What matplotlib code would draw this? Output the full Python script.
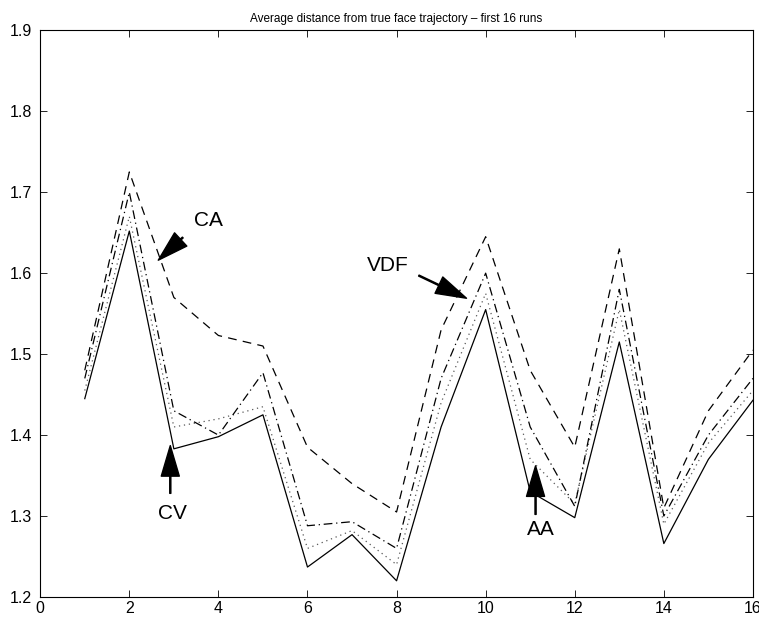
import matplotlib
matplotlib.use("Agg")
import matplotlib.pyplot as plt

runs = list(range(1, 17))
cv  = [1.445, 1.652, 1.383, 1.398, 1.425, 1.237, 1.277, 1.220, 1.410, 1.555, 1.330, 1.298, 1.515, 1.266, 1.370, 1.443]
dot = [1.455, 1.670, 1.410, 1.420, 1.435, 1.260, 1.282, 1.240, 1.440, 1.575, 1.370, 1.315, 1.555, 1.290, 1.390, 1.455]
vdf = [1.470, 1.700, 1.430, 1.400, 1.477, 1.288, 1.293, 1.260, 1.470, 1.600, 1.410, 1.312, 1.580, 1.300, 1.400, 1.470]
ca  = [1.480, 1.725, 1.570, 1.523, 1.510, 1.385, 1.340, 1.305, 1.530, 1.645, 1.480, 1.385, 1.630, 1.310, 1.430, 1.505]

title = "Average distance from true face trajectory \u2013 first 16 runs"
xticks = [0, 2, 4, 6, 8, 10, 12, 14, 16]
yticks = [1.2, 1.3, 1.4, 1.5, 1.6, 1.7, 1.8, 1.9]

plt.rcParams['font.family'] = ['Liberation Sans', 'DejaVu Sans']
fig = plt.figure(figsize=(7.59, 6.18), dpi=100)
ax = fig.add_axes([0.053, 0.034, 0.939, 0.917])

ax.plot(runs, cv, color='k', lw=0.9, ls='-')
ax.plot(runs, dot, color='0.35', lw=0.9, ls=(0, (1, 3)))
ax.plot(runs, vdf, color='k', lw=0.9, ls=(0, (7, 3, 1, 3)))
ax.plot(runs, ca, color='k', lw=0.9, ls=(0, (7, 5)))

ax.set_xlim(0, 16)
ax.set_ylim(1.2, 1.9)
ax.set_xticks(xticks)
ax.set_yticks(yticks)
ax.set_xticklabels([str(t) for t in xticks])
ax.set_yticklabels([f"{t:.1f}" for t in yticks])
ax.tick_params(direction='in', top=True, right=True, length=5, labelsize=11.5, width=0.6, pad=3)
ax.tick_params(axis='y', pad=6)
for s in ax.spines.values():
    s.set_linewidth(0.8)
ax.set_title(title, fontsize=8.5, pad=6)

ap = dict(facecolor='black', edgecolor='black', width=0.8, headwidth=13, headlength=22, shrink=0)
ax.text(3.77, 1.665, "CA", fontsize=15, ha='center', va='center')
ax.annotate("", xy=(2.65, 1.616), xytext=(3.2, 1.644), arrowprops=ap)
ax.text(2.96, 1.303, "CV", fontsize=15, ha='center', va='center')
ax.annotate("", xy=(2.92, 1.387), xytext=(2.92, 1.328), arrowprops=ap)
ax.text(7.8, 1.61, "VDF", fontsize=15, ha='center', va='center')
ax.annotate("", xy=(9.57, 1.569), xytext=(8.5, 1.597), arrowprops=ap)
ax.text(11.23, 1.283, "AA", fontsize=15, ha='center', va='center')
ax.annotate("", xy=(11.12, 1.362), xytext=(11.12, 1.302), arrowprops=ap)

fig.savefig("out.png", dpi=100)
